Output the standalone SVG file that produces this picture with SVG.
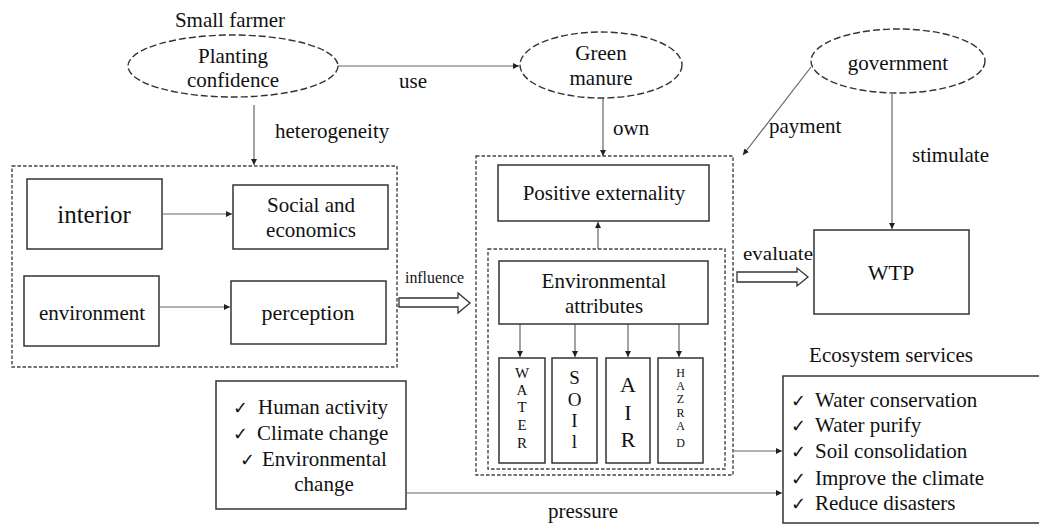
<svg xmlns="http://www.w3.org/2000/svg" width="1039" height="525" viewBox="0 0 1039 525" font-family="'Liberation Serif', 'DejaVu Serif', 'Times New Roman', serif" font-size="21">
<defs>
<style>
text{fill:#111;}
.c{text-anchor:middle;}
.chk{font-family:"DejaVu Sans",sans-serif;}
.box{fill:#fff;stroke:#333;stroke-width:1.5;}
.dbox{fill:none;stroke:#444;stroke-width:1.4;stroke-dasharray:3.5 2;}
.ell{fill:#fff;stroke:#333;stroke-width:1.4;stroke-dasharray:7 3;}
.ln{fill:none;stroke:#666;stroke-width:1.2;}
.hollow{fill:#fff;stroke:#333;stroke-width:1.3;}
</style>
<marker id="ah" viewBox="0 0 10 10" refX="10" refY="5" markerWidth="6" markerHeight="6" markerUnits="userSpaceOnUse" orient="auto">
<path d="M0,0 L10,5 L0,10 z" fill="#222"/>
</marker>
</defs>
<rect width="1039" height="525" fill="#fff"/>

<g id="connectors">
<line class="ln" x1="338" y1="66" x2="519" y2="66" marker-end="url(#ah)"/>
<line class="ln" x1="254" y1="105" x2="254" y2="165" marker-end="url(#ah)"/>
<line class="ln" x1="603" y1="98" x2="603" y2="156" marker-end="url(#ah)"/>
<line class="ln" x1="811" y1="67" x2="743" y2="155" marker-end="url(#ah)"/>
<line class="ln" x1="892" y1="94" x2="892" y2="229" marker-end="url(#ah)"/>
<line class="ln" x1="163" y1="214" x2="232" y2="214" marker-end="url(#ah)"/>
<line class="ln" x1="160" y1="307" x2="230" y2="307" marker-end="url(#ah)"/>
<line class="ln" x1="598" y1="249" x2="598" y2="222" marker-end="url(#ah)"/>
<line class="ln" x1="520" y1="324" x2="520" y2="357" marker-end="url(#ah)"/>
<line class="ln" x1="575" y1="324" x2="575" y2="357" marker-end="url(#ah)"/>
<line class="ln" x1="628" y1="324" x2="628" y2="357" marker-end="url(#ah)"/>
<line class="ln" x1="679" y1="324" x2="679" y2="357" marker-end="url(#ah)"/>
<line class="ln" x1="734" y1="451" x2="782" y2="451" marker-end="url(#ah)"/>
<line class="ln" x1="407" y1="493" x2="782" y2="493" marker-end="url(#ah)"/>
<path class="hollow" d="M399,298 L458,298 L458,293 L470,303 L458,313 L458,307 L399,307 Z"/>
<path class="hollow" d="M737,272 L797,272 L797,268 L808,277 L797,286 L797,282 L737,282 Z"/>
<text x="413" y="88" class="c">use</text>
<text x="275" y="138">heterogeneity</text>
<text x="613" y="135">own</text>
<text x="769" y="133">payment</text>
<text x="912" y="162">stimulate</text>
<text x="405" y="283" font-size="16" textLength="59" lengthAdjust="spacingAndGlyphs">influence</text>
<text x="743" y="260" font-size="19" textLength="70" lengthAdjust="spacingAndGlyphs">evaluate</text>
<text x="583" y="518" class="c">pressure</text>
</g>

<g id="small-farmer">
<text x="230" y="27" class="c">Small farmer</text>
<ellipse class="ell" cx="233" cy="66" rx="105" ry="31"/>
<text x="233" y="63" class="c">Planting</text>
<text x="233" y="87" class="c">confidence</text>
</g>

<g id="green-manure">
<ellipse class="ell" cx="601" cy="65" rx="81" ry="33"/>
<text x="601" y="60" class="c">Green</text>
<text x="601" y="85" class="c">manure</text>
</g>

<g id="government">
<ellipse class="ell" cx="898" cy="61" rx="87" ry="32"/>
<text x="898" y="70" class="c">government</text>
</g>

<g id="farmer-factors">
<rect class="dbox" x="12" y="166" width="385" height="201"/>
</g>
<g id="interior">
<rect class="box" x="27" y="179" width="135" height="70"/>
<text x="94" y="223" class="c" font-size="25">interior</text>
</g>
<g id="social">
<rect class="box" x="233" y="185" width="155" height="64"/>
<text x="311" y="212" class="c">Social and</text>
<text x="311" y="237" class="c">economics</text>
</g>
<g id="environment">
<rect class="box" x="24" y="276" width="135" height="70"/>
<text x="92" y="320" class="c">environment</text>
</g>
<g id="perception">
<rect class="box" x="231" y="281" width="155" height="63"/>
<text x="308" y="320" class="c" font-size="22">perception</text>
</g>

<g id="externality-group">
<rect class="dbox" x="476" y="156" width="257" height="319"/>
<rect class="dbox" x="488" y="249" width="237" height="220"/>
</g>
<g id="positive-externality">
<rect class="box" x="498" y="165" width="211" height="56"/>
<text x="604" y="200" class="c">Positive externality</text>
</g>
<g id="environmental-attributes">
<rect class="box" x="499" y="261" width="209" height="63"/>
<text x="604" y="288" class="c">Environmental</text>
<text x="604" y="313" class="c">attributes</text>
</g>
<g id="water">
<rect class="box" x="499" y="358" width="46" height="105"/>
<text class="c" font-size="15" x="522"><tspan x="522" y="378">W</tspan><tspan x="522" y="395">A</tspan><tspan x="522" y="412">T</tspan><tspan x="522" y="430">E</tspan><tspan x="522" y="448">R</tspan></text>
</g>
<g id="soil">
<rect class="box" x="552" y="358" width="45" height="105"/>
<text class="c" font-size="19" x="574.5"><tspan x="574.5" y="384">S</tspan><tspan x="574.5" y="406">O</tspan><tspan x="574.5" y="427">I</tspan><tspan x="574.5" y="448">l</tspan></text>
</g>
<g id="air">
<rect class="box" x="606" y="358" width="44" height="105"/>
<text class="c" font-size="22" x="628"><tspan x="628" y="392">A</tspan><tspan x="628" y="420">I</tspan><tspan x="628" y="447">R</tspan></text>
</g>
<g id="hazard">
<rect class="box" x="658" y="358" width="45" height="105"/>
<text class="c" font-size="12" x="680.5"><tspan x="680.5" y="377">H</tspan><tspan x="680.5" y="390">A</tspan><tspan x="680.5" y="403">Z</tspan><tspan x="680.5" y="417">R</tspan><tspan x="680.5" y="430">A</tspan><tspan x="680.5" y="447">D</tspan></text>
</g>

<g id="wtp">
<rect class="box" x="814" y="230" width="155" height="84"/>
<text x="891" y="280" class="c" font-size="22">WTP</text>
</g>

<g id="pressures">
<rect class="box" x="216" y="381" width="190" height="128"/>
<text x="233" y="414" class="chk" font-size="18">✓</text><text x="258" y="414">Human activity</text>
<text x="233" y="440" class="chk" font-size="18">✓</text><text x="257" y="440">Climate change</text>
<text x="240" y="466" class="chk" font-size="18">✓</text><text x="262" y="466">Environmental</text>
<text x="324" y="491" class="c">change</text>
</g>

<g id="ecosystem-services">
<text x="891" y="362" class="c">Ecosystem services</text>
<rect class="box" x="783" y="376" width="262" height="147"/>
<text x="791" y="407" class="chk" font-size="18">✓</text><text x="815" y="407">Water conservation</text>
<text x="791" y="432" class="chk" font-size="18">✓</text><text x="815" y="432">Water purify</text>
<text x="791" y="458" class="chk" font-size="18">✓</text><text x="815" y="458">Soil consolidation</text>
<text x="791" y="485" class="chk" font-size="18">✓</text><text x="815" y="485">Improve the climate</text>
<text x="791" y="510" class="chk" font-size="18">✓</text><text x="815" y="510">Reduce disasters</text>
</g>
</svg>
